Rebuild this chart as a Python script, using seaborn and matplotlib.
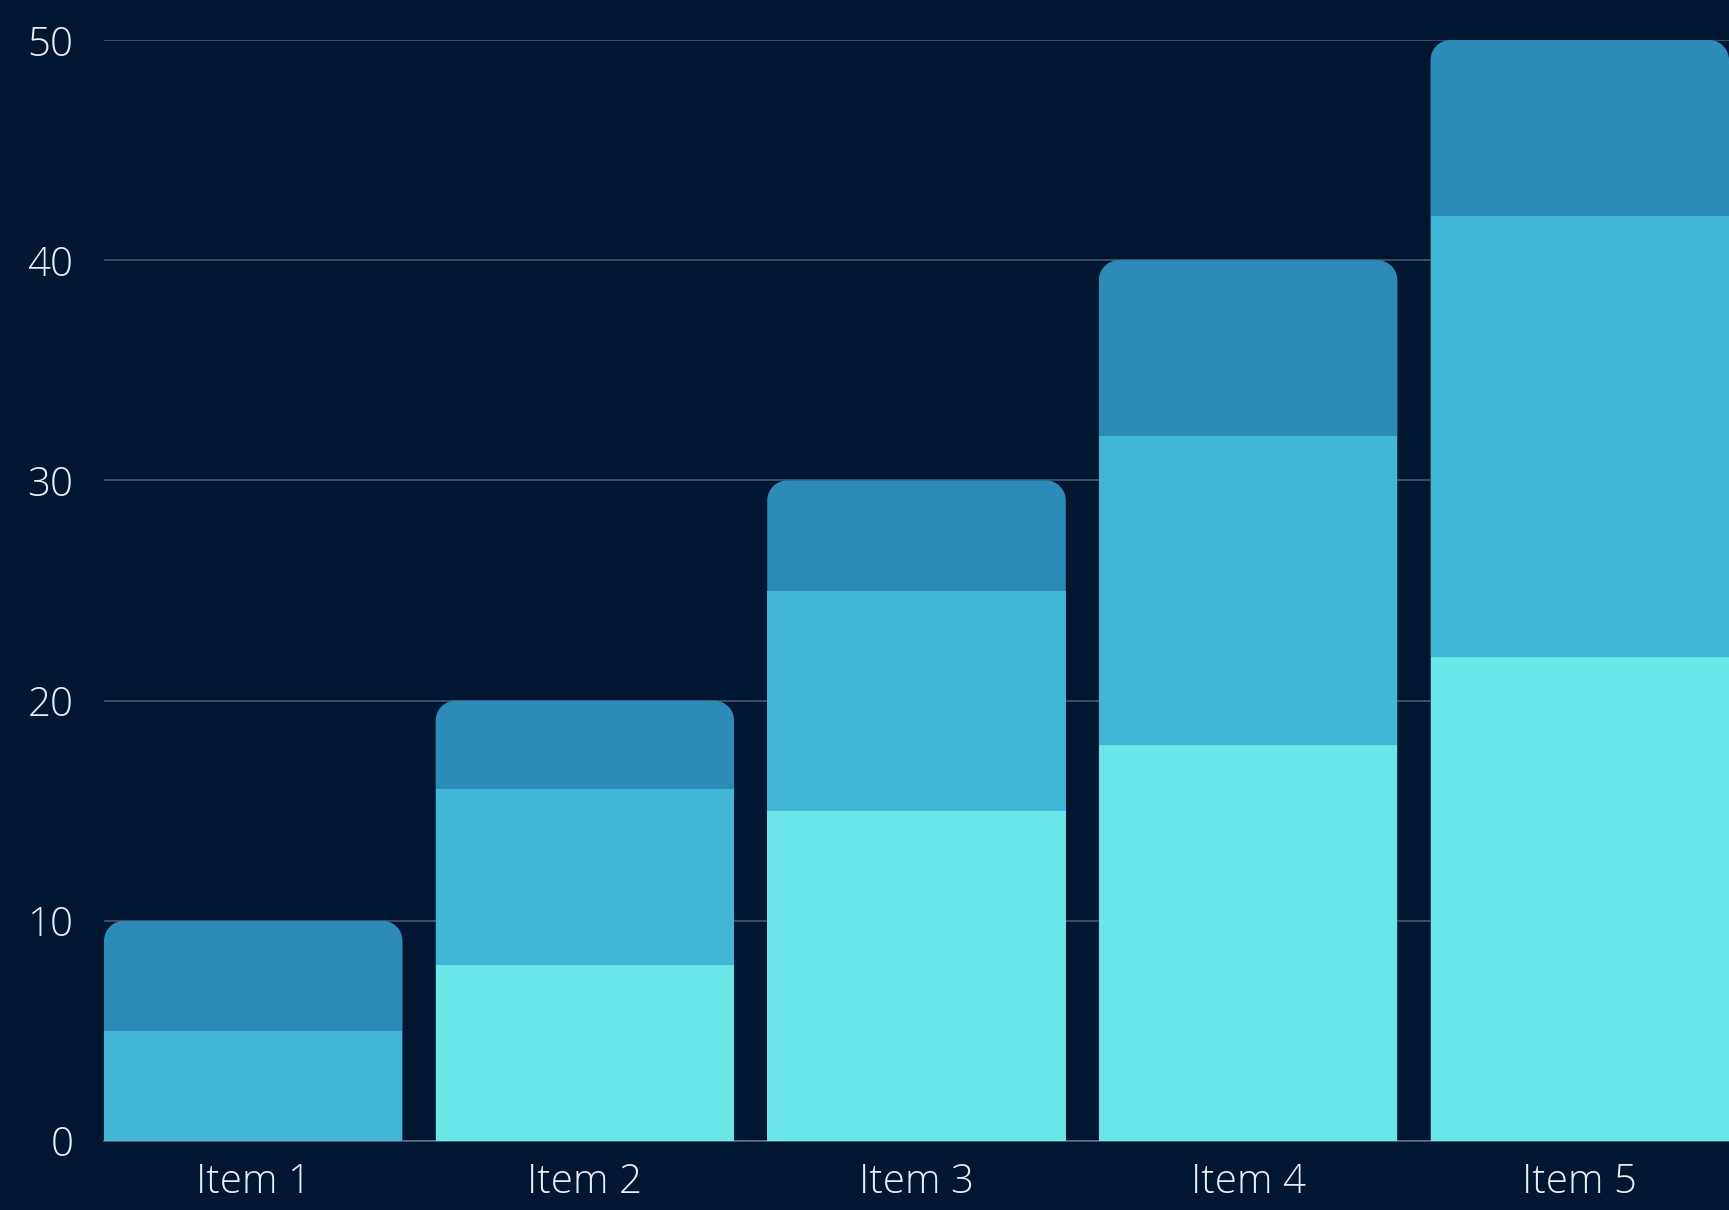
import numpy as np
import pandas as pd
import matplotlib
matplotlib.use("Agg")
import matplotlib.pyplot as plt
from matplotlib.path import Path
from matplotlib.patches import PathPatch
import seaborn as sns

categories = ["Item 1", "Item 2", "Item 3", "Item 4", "Item 5"]
series_bottom = [0, 8, 15, 18, 22]
series_middle = [5, 8, 10, 14, 20]
series_top = [5, 4, 5, 8, 8]
y_ticks = [0, 10, 20, 30, 40, 50]

colors = {"bottom": "#6BE6E8", "middle": "#41B6D6", "top": "#2D8BBA"}
bg = "#011630"

sns.set_theme(style="white")
plt.rcParams["font.family"] = ["Open Sans", "DejaVu Sans"]

cum_bottom = np.array(series_bottom, dtype=float)
cum_middle = cum_bottom + np.array(series_middle)
cum_top = cum_middle + np.array(series_top)

df = pd.DataFrame({"item": categories, "top": cum_top, "middle": cum_middle, "bottom": cum_bottom})

fig = plt.figure(figsize=(17.29, 12.10), dpi=100, facecolor=bg)
ax = fig.add_axes([104 / 1729, 69 / 1210, 1 - 104 / 1729, (1141 - 40) / 1210])
ax.set_facecolor(bg)

bar_w = 0.9
layers = []
for i, key in enumerate(["top", "middle", "bottom"]):
    n_before = len(ax.patches)
    sns.barplot(data=df, x="item", y=key, color=colors[key], width=bar_w,
                saturation=1, ax=ax, linewidth=0, zorder=2 + i)
    layers.append(list(ax.patches[n_before:]))

ax.set_xlim(-bar_w / 2, len(categories) - 1 + bar_w / 2)
ax.set_ylim(0, 50)
ax.set_yticks(y_ticks)
ax.set_yticklabels([str(t) for t in y_ticks])

fig.canvas.draw()
# Round the top corners of the outermost (total) bars
px_per_x = ax.transData.transform((1, 0))[0] - ax.transData.transform((0, 0))[0]
px_per_y = ax.transData.transform((0, 1))[1] - ax.transData.transform((0, 0))[1]
r_px = 20
rx = r_px / px_per_x
ry = r_px / px_per_y
k = 0.5523
for rect in layers[0]:
    x0, y0 = rect.get_x(), rect.get_y()
    w, h = rect.get_width(), rect.get_height()
    x1, y1 = x0 + w, y0 + h
    verts = [
        (x0, y0), (x0, y1 - ry),
        (x0, y1 - ry + k * ry), (x0 + rx - k * rx, y1), (x0 + rx, y1),
        (x1 - rx, y1),
        (x1 - rx + k * rx, y1), (x1, y1 - ry + k * ry), (x1, y1 - ry),
        (x1, y0), (x0, y0),
    ]
    codes = [Path.MOVETO, Path.LINETO,
             Path.CURVE4, Path.CURVE4, Path.CURVE4,
             Path.LINETO,
             Path.CURVE4, Path.CURVE4, Path.CURVE4,
             Path.LINETO, Path.CLOSEPOLY]
    patch = PathPatch(Path(verts, codes), facecolor=rect.get_facecolor(),
                      edgecolor="none", linewidth=0, zorder=1.5)
    rect.remove()
    ax.add_patch(patch)

ax.yaxis.grid(True, color="#7f8ca0", alpha=0.55, linewidth=1.2, zorder=0)
ax.set_axisbelow(True)
ax.xaxis.grid(False)
for side in ["left", "right", "top"]:
    ax.spines[side].set_visible(False)
ax.spines["bottom"].set_color("#7f8ca0")
ax.spines["bottom"].set_alpha(0.7)
ax.spines["bottom"].set_linewidth(1.2)
ax.spines["bottom"].set_zorder(1)

ax.set_xlabel("")
ax.set_ylabel("")
ax.tick_params(axis="y", length=0, pad=22, labelsize=29, labelcolor="#e8edf3")
ax.tick_params(axis="x", length=0, pad=15, labelsize=29, labelcolor="#e8edf3")
for lbl in ax.get_xticklabels() + ax.get_yticklabels():
    lbl.set_fontweight("light")

fig.savefig("out.png", dpi=100, facecolor=bg)
